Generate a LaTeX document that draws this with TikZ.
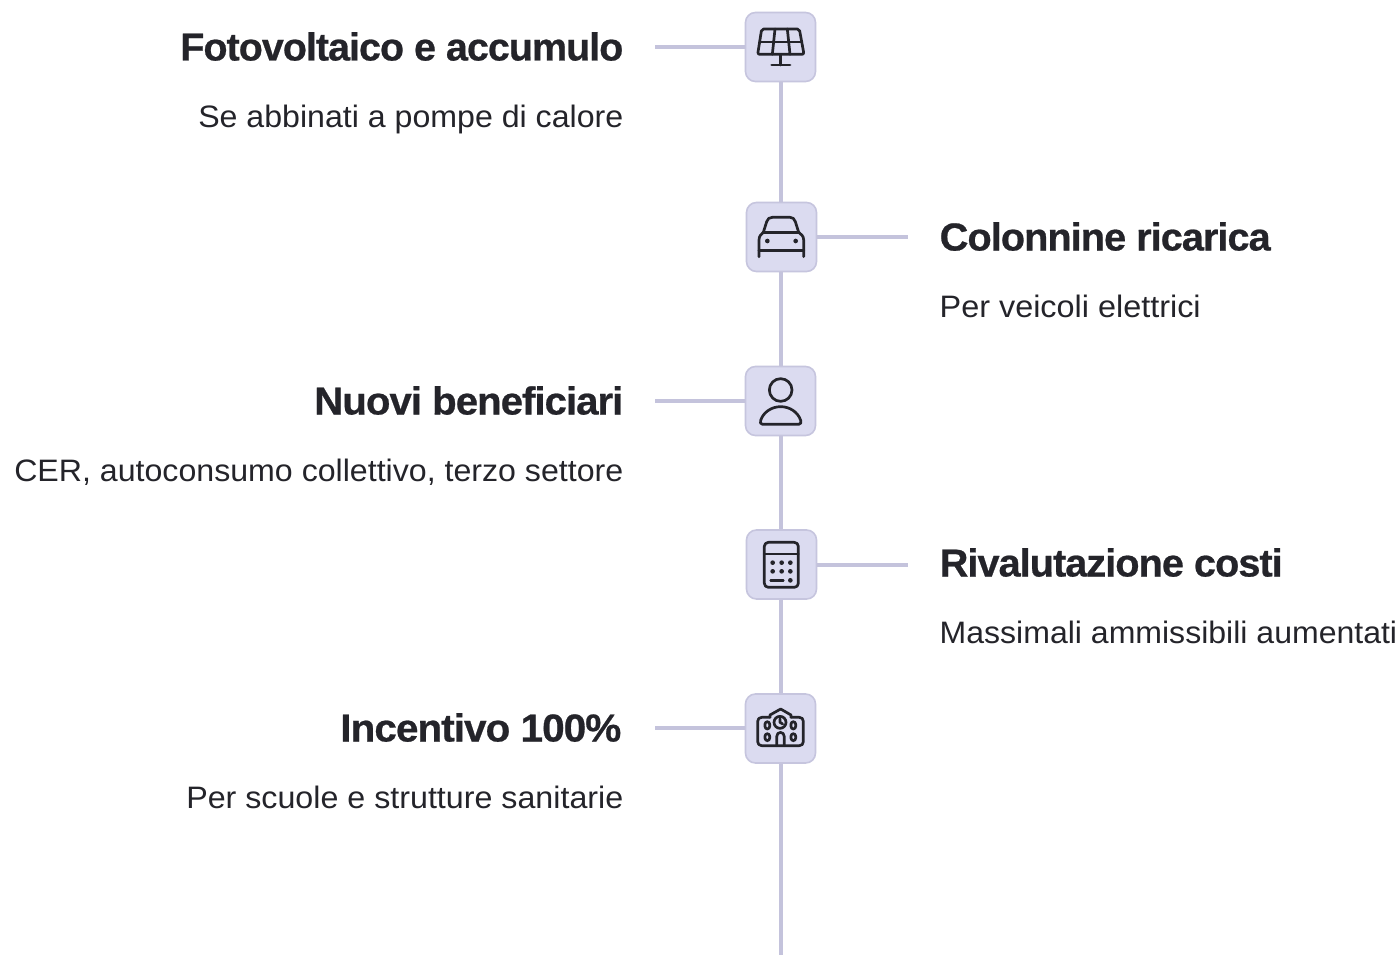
\documentclass[tikz,border=0pt]{standalone}
\usepackage{fontspec}
\usepackage{graphicx}
\setmainfont{Liberation Sans}
\newfontfamily\ttlfont[LetterSpace=-2.5,FakeBold=0.6]{Liberation Sans Bold}
\newcommand{\fitw}[2]{\resizebox{#1pt}{\height}{#2}}
\definecolor{ink}{HTML}{24242A}
\definecolor{boxfill}{HTML}{DBDBF0}
\definecolor{boxline}{HTML}{C6C5DE}
\definecolor{spine}{HTML}{C4C3DC}
\tikzset{
  iconbox/.style={draw=boxline,fill=boxfill,line width=1.6pt,rounded corners=10pt,minimum width=70pt,minimum height=69pt,inner sep=0pt},
  conn/.style={draw=spine,line width=3.4pt},
  ttl/.style={inner sep=0pt,text=ink,font=\ttlfont\fontsize{39}{41}\selectfont},
  dsc/.style={inner sep=0pt,text=ink,font=\fontsize{31}{34}\selectfont},
  zoomed/.style={x=0.33333pt,y=-0.33333pt,draw=ink,line width=2.7pt,line cap=round,line join=round},
}
\begin{document}
\begin{tikzpicture}[x=1pt,y=-1pt]
\useasboundingbox (0,0) rectangle (1400,955);
\fill[white] (0,0) rectangle (1400,955);
\coordinate (s1) at (655,47);
\coordinate (s2) at (908,237);
\coordinate (s3) at (655,401);
\coordinate (s4) at (908,565);
\coordinate (s5) at (655,728);
\coordinate (endp) at (781,955);
% boxes
\node[iconbox] (b1) at (780.5,47) {};
\node[iconbox] (b2) at (781.5,237) {};
\node[iconbox] (b3) at (780.5,401) {};
\node[iconbox] (b4) at (781.5,564.5) {};
\node[iconbox] (b5) at (780.5,728.5) {};
% connectors
\draw[conn] (b1.south -| endp) -- (b2.north -| endp);
\draw[conn] (b2.south -| endp) -- (b3.north -| endp);
\draw[conn] (b3.south -| endp) -- (b4.north -| endp);
\draw[conn] (b4.south -| endp) -- (b5.north -| endp);
\draw[conn] (b5.south -| endp) -- (endp);
\draw[conn] (s1) -- (b1.west |- s1);
\draw[conn] (b2.east |- s2) -- (s2);
\draw[conn] (s3) -- (b3.west |- s3);
\draw[conn] (b4.east |- s4) -- (s4);
\draw[conn] (s5) -- (b5.west |- s5);
% titles and descriptions
\node[ttl,anchor=base east] (t1) at (623.5,60.5) {\fitw{443}{Fotovoltaico e accumulo}};
\node[dsc,anchor=base east] (d1) at (623.5,127.5) {\fitw{425}{Se abbinati a pompe di calore}};
\node[ttl,anchor=base west] (t2) at (939.5,250.5) {\fitw{331}{Colonnine ricarica}};
\node[dsc,anchor=base west] (d2) at (939.5,317) {\fitw{261}{Per veicoli elettrici}};
\node[ttl,anchor=base east] (t3) at (623.5,414.5) {\fitw{309}{Nuovi beneficiari}};
\node[dsc,anchor=base east] (d3) at (623.5,481) {\fitw{609}{CER, autoconsumo collettivo, terzo settore}};
\node[ttl,anchor=base west] (t4) at (939.5,576.5) {\fitw{343}{Rivalutazione costi}};
\node[dsc,anchor=base west] (d4) at (939.5,643) {\fitw{457.5}{Massimali ammissibili aumentati}};
\node[ttl,anchor=base east] (t5) at (621.5,741.5) {\fitw{281}{Incentivo 100\%}};
\node[dsc,anchor=base east] (d5) at (623.5,808) {\fitw{437}{Per scuole e strutture sanitarie}};
% solar panel
\begin{scope}[shift={(730,0)},zoomed]
\draw[rounded corners=2pt] (95,87) -- (208,87) -- (222,163) -- (83,163) -- cycle;
\draw (89,126) -- (215,126);
\draw (135,87) -- (127,163);
\draw (172,87) -- (180,163);
\draw (152,165) -- (152,195);
\draw (125,195) -- (180,195);
\end{scope}
% car
\begin{scope}[shift={(730,190)},zoomed]
\draw (87,200) -- (87,150) .. controls (87,138) and (94,132) .. (100,127) -- (110,95) .. controls (113,86) and (118,82) .. (127,82) -- (180,82) .. controls (188,82) and (193,86) .. (196,95) -- (206,127) .. controls (213,132) and (221,138) .. (221,150) -- (221,200);
\draw (98,128) -- (208,128);
\draw (87,182) -- (221,182);
\fill[ink] (112,153) circle (7);
\fill[ink] (197,153) circle (7);
\end{scope}
% person
\begin{scope}[shift={(730,355)},zoomed]
\draw (152,105) circle (34);
\draw (98,208) -- (206,208) .. controls (213,208) and (214,202) .. (212,196) .. controls (204,172) and (180,155) .. (152,155) .. controls (124,155) and (100,172) .. (92,196) .. controls (90,202) and (91,208) .. (98,208) -- cycle;
\end{scope}
% calculator
\begin{scope}[shift={(730,520)},zoomed]
\draw[rounded corners=4pt] (103,67) rectangle (205,202);
\draw (103,102) -- (205,102);
\foreach \u in {128,155,181}{\foreach \v in {128,154}{\fill[ink] (\u,\v) circle (7);}}
\draw (122,181) -- (160,181);
\fill[ink] (181,181) circle (7);
\end{scope}
% school
\begin{scope}[shift={(730,680)},zoomed]
\draw (120,112) -- (95,112) .. controls (88,112) and (83,117) .. (83,124) -- (83,185) .. controls (83,192) and (88,197) .. (95,197) -- (208,197) .. controls (215,197) and (220,192) .. (220,185) -- (220,124) .. controls (220,117) and (215,112) .. (208,112) -- (183,112);
\draw (120,112) -- (120,105) -- (152,87) -- (183,105) -- (183,112);
\draw (150,127) circle (18);
\draw (150,116) -- (150,127) -- (158,132);
\draw[rounded corners=2.5pt] (105,125) rectangle (119,147);
\draw[rounded corners=2.5pt] (183,125) rectangle (197,147);
\draw[rounded corners=2.5pt] (105,161) rectangle (119,182);
\draw[rounded corners=2.5pt] (183,161) rectangle (197,182);
\draw (140,197) -- (140,170) .. controls (140,153) and (163,153) .. (163,170) -- (163,197);
\end{scope}
\end{tikzpicture}
\end{document}
